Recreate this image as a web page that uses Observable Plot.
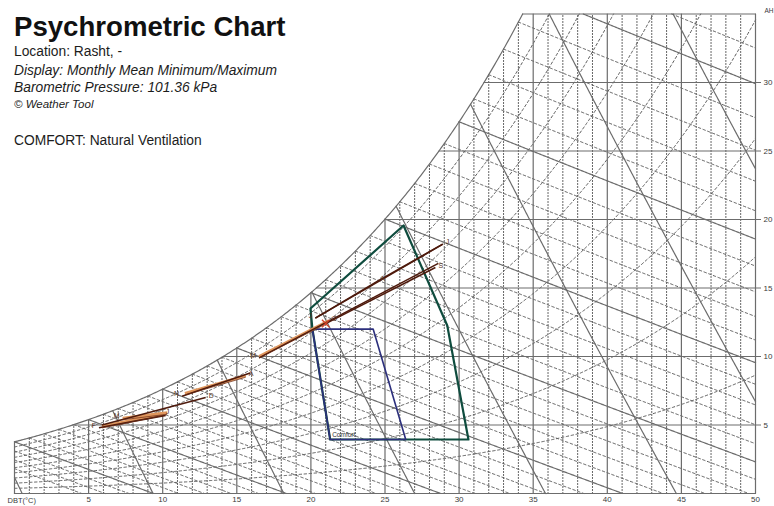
<!DOCTYPE html>
<html>
<head>
<meta charset="utf-8">
<script src="https://cdn.jsdelivr.net/npm/d3@7"></script>
<script src="https://cdn.jsdelivr.net/npm/@observablehq/plot@0.6"></script>
<style>
  html, body { margin: 0; padding: 0; background: #fff; }
  #wrap { position: relative; width: 774px; height: 506px; font-family: "Liberation Sans", Arial, sans-serif; color: #1c1c1c; }
  #chart { position: absolute; left: 0; top: 0; }
  .hd { position: absolute; left: 14px; white-space: nowrap; pointer-events: none; }
  #title { top: 13px; font-size: 27.6px; line-height: 27px; font-weight: bold; color: #111; }
  .sub { font-size: 13.8px; line-height: 16px; }
  .it { font-style: italic; }
  #copy { font-size: 11.5px; line-height: 13px; }
</style>
</head>
<body>
<div id="wrap">
  <div id="chart"></div>
  <div class="hd" id="title">Psychrometric Chart</div>
  <div class="hd sub" style="top:44px">Location: Rasht, -</div>
  <div class="hd sub it" style="top:63px">Display: Monthly Mean Minimum/Maximum</div>
  <div class="hd sub it" style="top:80px">Barometric Pressure: 101.36 kPa</div>
  <div class="hd it" id="copy" style="top:98px">© Weather Tool</div>
  <div class="hd sub" style="top:133px">COMFORT: Natural Ventilation</div>
</div>
<script>
// ---- chart values ----
const pressureKPa = 101.36;
const dbtRange = [0, 50];          // dry-bulb temperature, °C
const ahRange = [0, 35];           // absolute humidity, g/kg
const dbtTicks = [5, 10, 15, 20, 25, 30, 35, 40, 45, 50];
const ahTicks = [5, 10, 15, 20, 25, 30];
const rhLevels = [10, 20, 30, 40, 50, 60, 70, 80, 90];              // % relative humidity
const wetBulbMajor = [0, 5, 10, 15, 20, 25, 30, 35];                 // °C
const wetBulbMinor = [-3, -2, -1, 1, 2, 3, 4, 6, 7, 8, 9, 11, 12, 13, 14, 16, 17, 18, 19,
                      21, 22, 23, 24, 26, 27, 28, 29, 31, 32, 33, 34, 36];
const specificVolumes = [0.775, 0.8, 0.825, 0.85, 0.875, 0.9, 0.925, 0.95]; // m³/kg

// monthly mean minimum / maximum: temperature (°C) and absolute humidity (g/kg)
const months = ["Jan", "Feb", "Mar", "Apr", "May", "Jun", "Jul", "Aug", "Sep", "Oct", "Nov", "Dec"];
const tMin  = [5.9, 5.7, 7.3, 11.5, 16.5, 20.3, 24.5, 20.3, 21.0, 16.5, 11.3, 5.9];
const tMax  = [10.0, 10.2, 10.3, 15.6, 28.6, 28.9, 28.9, 24.5, 28.4, 21.2, 15.9, 12.9];
const ahMin = [4.9, 4.8, 5.5, 7.3, 9.9, 12.8, 15.5, 12.8, 12.4, 10.0, 7.1, 5.0];
const ahMax = [5.8, 5.7, 5.9, 8.6, 16.8, 18.2, 18.2, 15.5, 16.5, 12.6, 8.8, 7.0];
// month tags sit at the warm end of these lines, at the cool end of the rest
const tagAtMax = ["Jan", "Apr", "Jul", "Aug", "Sep", "Oct", "Dec"];

// comfort zones (°C, g/kg)
const comfortT  = [20.1, 24.2, 26.4, 21.3];
const comfortAH = [12.0, 12.0, 3.94, 3.94];
const ventT  = [19.97, 26.25, 29.2, 30.63, 21.3, 20.1];
const ventAH = [13.5, 19.56, 12.26, 3.94, 3.94, 12.04];

const comfortLabel = "Comfort";
const dbtLabel = "DBT(°C)";
const ahLabel = "AH";

// ---- psychrometric relations ----
const pws = T => 0.61094 * Math.exp(17.625 * T / (T + 243.04));       // kPa
const wSat = T => 622 * pws(T) / (pressureKPa - pws(T));               // g/kg
const ceilAt = T => Math.min(wSat(T), ahRange[1]);
function tSatOf(w) {
  let lo = -30, hi = 80;
  for (let k = 0; k < 60; k++) { const m = (lo + hi) / 2; if (wSat(m) < w) lo = m; else hi = m; }
  return (lo + hi) / 2;
}
const wetBulbW = tw => T => ((2501 - 2.326 * tw) * wSat(tw) - 1006 * (T - tw)) / (2501 + 1.86 * T - 4.186 * tw);
const volumeW = v => T => 1000 * (v * pressureKPa / (0.287042 * (T + 273.15)) - 1) / 1.607858;
const rhW = rh => T => rh / 100 * wSat(T);

// trace a curve w(T) across the chart, keeping only the part under the saturation curve
function trace(fn, id, out) {
  const inside = T => { const w = fn(T); return Math.min(w, ceilAt(T) - w); };
  const step = 0.05;
  let prevT = dbtRange[0], prevIn = inside(prevT) >= 0;
  let run = prevIn ? [{T: prevT, w: fn(prevT), id}] : [];
  for (let T = dbtRange[0] + step; T <= dbtRange[1] + 1e-9; T += step) {
    const isIn = inside(T) >= 0;
    if (isIn !== prevIn) {
      let a = prevT, b = T;
      for (let k = 0; k < 40; k++) { const m = (a + b) / 2; if ((inside(m) >= 0) === prevIn) a = m; else b = m; }
      const tb = (a + b) / 2;
      run.push({T: tb, w: Math.max(0, Math.min(fn(tb), ceilAt(tb))), id});
      if (!isIn) { out.push(...run); run = []; }
    }
    if (isIn) run.push({T, w: fn(T), id});
    prevT = T; prevIn = isIn;
  }
  if (run.length > 1) out.push(...run);
}

// ---- grid families ----
const dotted = [], dashed = [], solid = [];
for (let T = 1; T < 50; T++) {
  if (T % 5 === 0) continue;
  dotted.push({T, w: 0, id: "d" + T}, {T, w: ceilAt(T), id: "d" + T});
}
rhLevels.forEach(rh => trace(rhW(rh), "rh" + rh, dashed));
wetBulbMinor.forEach(tw => trace(wetBulbW(tw), "wb" + tw, dashed));

[5, 10, 15, 20, 25, 30, 35, 40, 45].forEach(T =>
  solid.push({T, w: 0, id: "v" + T}, {T, w: ceilAt(T), id: "v" + T}));
ahTicks.forEach(w => solid.push({T: tSatOf(w), w, id: "h" + w}, {T: 50, w, id: "h" + w}));
wetBulbMajor.forEach(tw => trace(wetBulbW(tw), "WB" + tw, solid));
specificVolumes.forEach(v => trace(volumeW(v), "sv" + v, solid));
// saturation curve and chart border
const tTop = tSatOf(ahRange[1]);
for (let T = 0; T <= tTop; T += 0.1) solid.push({T, w: wSat(T), id: "sat"});
solid.push({T: tTop, w: ahRange[1], id: "sat"});
solid.push({T: 0, w: 0, id: "fb"}, {T: 50, w: 0, id: "fb"});
solid.push({T: 0, w: 0, id: "fl"}, {T: 0, w: wSat(0), id: "fl"});
solid.push({T: 50, w: 0, id: "fr"}, {T: 50, w: 35, id: "fr"});
solid.push({T: tTop, w: 35, id: "ft"}, {T: 50, w: 35, id: "ft"});

// ---- zones and monthly data ----
const closeRing = (ts, as) => ts.concat(ts[0]).map((T, i) => ({T, w: as.concat(as[0])[i]}));
const comfortRing = closeRing(comfortT, comfortAH);
const ventRing = closeRing(ventT, ventAH);

const monthRows = months.map((m, i) => ({m, t0: tMin[i], t1: tMax[i], a0: ahMin[i], a1: ahMax[i]}));
const lightMonths = new Set(["Jan", "Mar", "Apr", "Oct"]);
const lightRows = monthRows.filter(d => lightMonths.has(d.m));
const darkRows = monthRows.filter(d => !lightMonths.has(d.m));
const warmTags = monthRows.filter(d => tagAtMax.includes(d.m));
const coolTags = monthRows.filter(d => !tagAtMax.includes(d.m));

const gridGray = "#6c6c6c";
const plot = Plot.plot({
  width: 774,
  height: 506,
  marginLeft: 14,
  marginRight: 19,
  marginTop: 13.5,
  marginBottom: 13,
  x: {domain: dbtRange},
  y: {domain: ahRange},
  style: {background: "transparent", fontFamily: "Liberation Sans, Arial, sans-serif"},
  marks: [
    Plot.line(dotted, {x: "T", y: "w", z: "id", stroke: "#555", strokeWidth: 1, strokeDasharray: "1,2"}),
    Plot.line(dashed, {x: "T", y: "w", z: "id", stroke: "#5a5a5a", strokeWidth: 1, strokeDasharray: "2.5,2.5"}),
    Plot.line(solid, {x: "T", y: "w", z: "id", stroke: gridGray, strokeWidth: 1.2}),
    Plot.axisX({ticks: dbtTicks, tickSize: 0, tickPadding: 3, fontSize: 8, fill: "#3a3a3a", label: null}),
    Plot.axisY({anchor: "right", ticks: ahTicks, tickSize: 5, tickPadding: 3, fontSize: 8, fill: "#3a3a3a", stroke: gridGray, label: null}),
    Plot.text([dbtLabel], {x: dbtRange[0], y: ahRange[0], text: d => d, dx: -7, dy: 7, textAnchor: "start", fontSize: 7.5, fill: "#3a3a3a"}),
    Plot.text([ahLabel], {x: dbtRange[1], y: ahRange[1], text: d => d, dx: 9, dy: -3, textAnchor: "start", fontSize: 6.5, fill: "#3a3a3a"}),
    // comfort zones
    Plot.line(ventRing, {x: "T", y: "w", stroke: "#0f4c3e", strokeWidth: 2.2}),
    Plot.line(comfortRing, {x: "T", y: "w", stroke: "#2c2f7c", strokeWidth: 1.6}),
    Plot.text([comfortLabel], {x: comfortT[3], y: comfortAH[3], text: d => d, dx: 2, dy: -5, textAnchor: "start", fontSize: 6.5, fill: "#333"}),
    // monthly min/max lines
    Plot.link(lightRows, {x1: "t0", y1: "a0", x2: "t1", y2: "a1", stroke: "#e0965c", strokeWidth: 3}),
    Plot.link(darkRows, {x1: "t0", y1: "a0", x2: "t1", y2: "a1", stroke: "#4e1a0c", strokeWidth: 1.6}),
    Plot.link(lightRows, {x1: "t0", y1: "a0", x2: "t1", y2: "a1", stroke: "#6a2a14", strokeWidth: 0.7, dy: 1.6}),
    Plot.dot(monthRows.filter(d => d.m === "Sep"), {x: "t0", y: "a0", symbol: "times", r: 3.5, stroke: "#d2452a", strokeWidth: 1.4}),
    Plot.text(coolTags, {x: "t0", y: "a0", text: d => d.m[0], dx: -3, dy: -2, textAnchor: "end", fontSize: 7, fill: "#5a3424"}),
    Plot.text(warmTags, {x: "t1", y: "a1", text: d => d.m[0], dx: 3, dy: -2, textAnchor: "start", fontSize: 7, fill: "#5a3424"})
  ]
});
document.getElementById("chart").appendChild(plot);
</script>
</body>
</html>
